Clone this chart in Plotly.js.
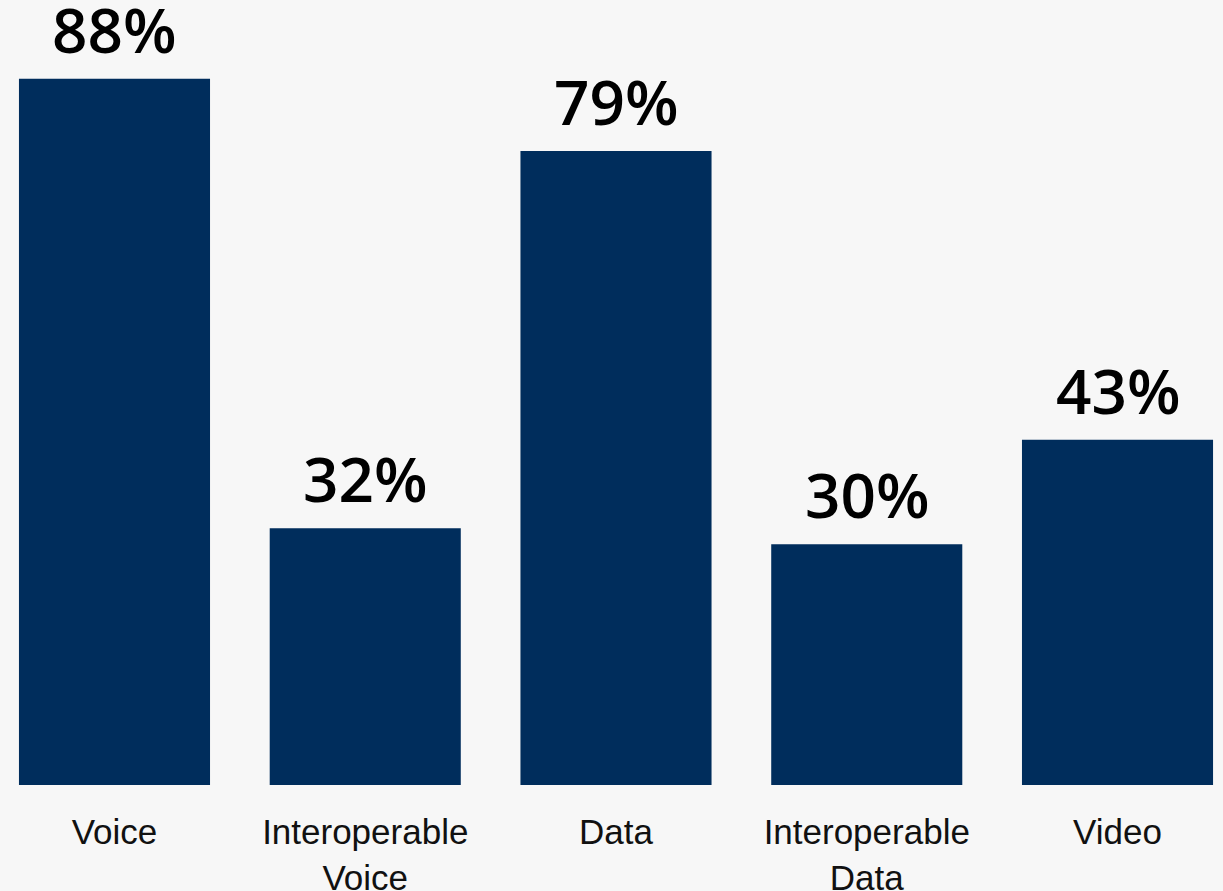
<!DOCTYPE html>
<html><head><meta charset="utf-8">
<script src="https://cdn.plot.ly/plotly-3.0.1.min.js"></script>
<style>html,body{margin:0;padding:0;background:#f7f7f7;}#chart{width:1223px;height:891px;}</style>
</head><body><div id="chart"></div>
<script>
const categories = ["Voice", "Interoperable<br>Voice", "Data", "Interoperable<br>Data", "Video"];
const values = [88, 32, 79, 30, 43];
const valueLabels = ["88%", "32%", "79%", "30%", "43%"];

const trace = {
  type: "bar",
  x: categories,
  y: values,
  marker: {color: "#002D5C"},
  width: 0.762,
  hoverinfo: "none"
};

const annotations = categories.map((c, i) => ({
  x: c, y: values[i], text: valueLabels[i],
  xref: "x", yref: "y", showarrow: false,
  yanchor: "bottom", yshift: 6,
  font: {family: "Open Sans, sans-serif", size: 62, color: "#000", weight: 600}
}));

const layout = {
  width: 1223, height: 891,
  margin: {l: 0, r: 0, t: 0, b: 106},
  paper_bgcolor: "#f7f7f7", plot_bgcolor: "#f7f7f7",
  showlegend: false,
  bargap: 0.238,
  xaxis: {
    type: "category",
    range: [-0.4566, 4.4207],
    showgrid: false, zeroline: false, showline: false,
    ticks: "outside", ticklen: 16, tickcolor: "rgba(0,0,0,0)",
    tickfont: {family: "Liberation Sans, Arial, sans-serif", size: 35, color: "#111"}
  },
  yaxis: {
    range: [0, 97.8],
    visible: false, showgrid: false, zeroline: false
  },
  annotations: annotations
};

Plotly.newPlot("chart", [trace], layout, {displayModeBar: false, staticPlot: true});
</script></body></html>
